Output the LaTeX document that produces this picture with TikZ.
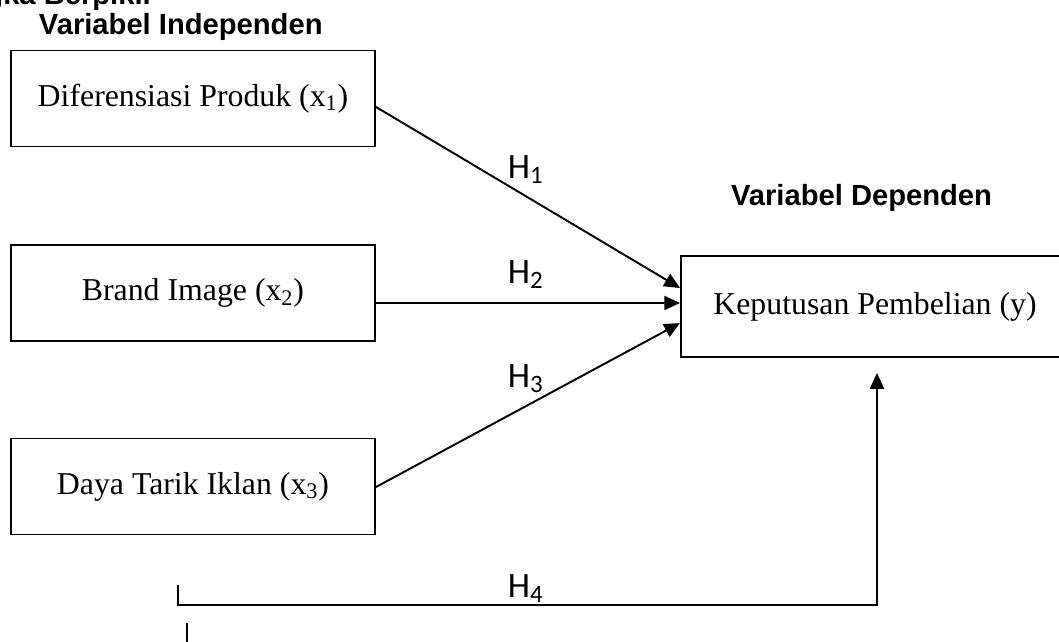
\documentclass[tikz,border=0pt]{standalone}
\usepackage{fontspec}
\setmainfont{Liberation Serif}
\setsansfont{Liberation Sans}
\newfontfamily\hypfont{Carlito}
\usetikzlibrary{arrows.meta}

\begin{document}
\begin{tikzpicture}[x=0.02cm, y=-0.02cm, line width=1.1pt,
  varbox/.style={draw, minimum width=7.28cm, minimum height=1.92cm, inner sep=0pt, font=\fontsize{18.1}{21}\selectfont},
  head/.style={font=\sffamily\bfseries\fontsize{16.6}{20}\selectfont, inner sep=0pt},
  hyp/.style={font=\hypfont\fontsize{20.3}{24}\selectfont, anchor=base west, inner sep=0pt},
  arr/.style={-{Triangle[length=9pt,width=8pt]}, line width=1.1pt}]
\clip (0,0) rectangle (1059,642);
% ---- titles
\node[head, anchor=base east] (judul) at (155,5) {Kerangka Berpikir};
\node[head, anchor=base west] (indep) at (38,35) {Variabel Independen};
\node[head, anchor=base east] (dep) at (993,206) {Variabel Dependen};
% ---- variables
\node[varbox] (x1) at (193,98.5) {Diferensiasi Produk (x\textsubscript{1})};
\node[varbox] (x2) at (193,293) {Brand Image (x\textsubscript{2})};
\node[varbox] (x3) at (193,486.5) {Daya Tarik Iklan (x\textsubscript{3})};
\node[varbox, minimum width=7.76cm, minimum height=2.02cm] (y) at (875,306.5) {Keputusan Pembelian (y)};
% ---- hypotheses
\draw[arr] ([yshift=-4.8pt]x1.east) -- ([yshift=10.5pt]y.west);
\draw[arr] ([yshift=-5.7pt]x2.east) -- ([yshift=2pt]y.west);
\draw[arr] ([yshift=-0.3pt]x3.east) -- ([yshift=-9.4pt]y.west);
\node[hyp] (h1) at (507,178) {H\textsubscript{1}};
\node[hyp] (h2) at (507,283) {H\textsubscript{2}};
\node[hyp] (h3) at (507,387) {H\textsubscript{3}};
% ---- simultaneous path
\coordinate (tick) at (178,585);
\coordinate (kiri) at (178,605);
\coordinate (kanan) at (877,605);
\coordinate (atas) at (877,373);
\draw[arr] (tick) -- (kiri) -- (kanan) -- (atas);
\node[hyp] (h4) at (507,597) {H\textsubscript{4}};
\coordinate (sisa) at (187,623);
\coordinate (sisab) at (187,650);
\draw (sisa) -- (sisab);
\end{tikzpicture}
\end{document}
